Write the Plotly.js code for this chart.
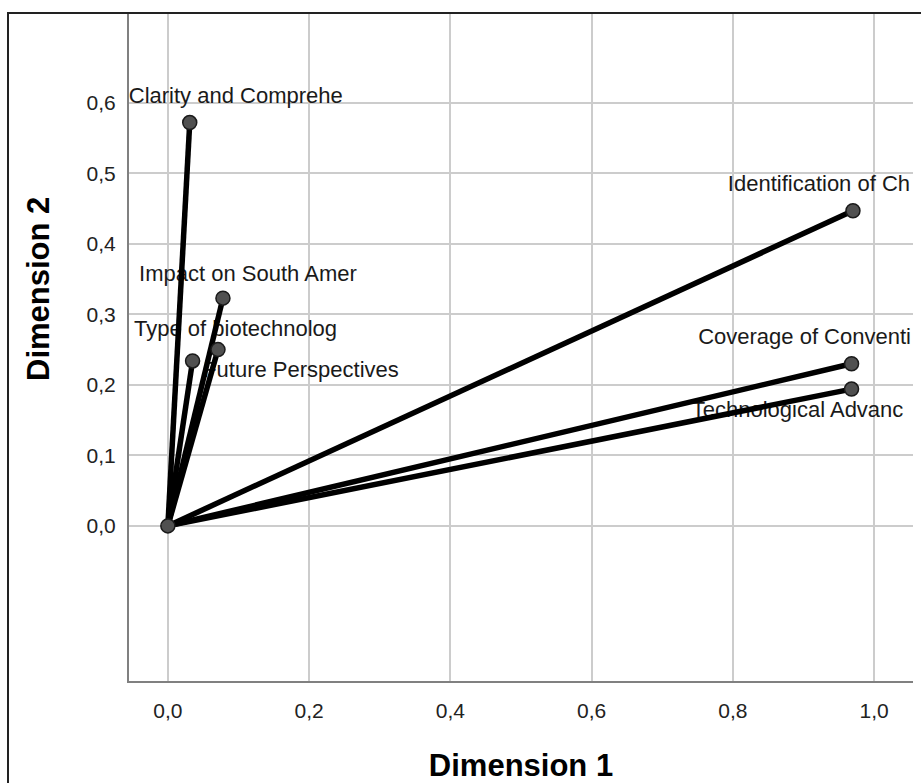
<!DOCTYPE html>
<html>
<head>
<meta charset="utf-8">
<script src="https://cdn.plot.ly/plotly-3.0.1.min.js"></script>
<style>
  html, body { margin: 0; padding: 0; background: #ffffff; }
  #chart { width: 921px; height: 783px; }
</style>
</head>
<body>
<div id="chart"></div>
<script>
// ---- data ----
const labels = [
  "Clarity and Comprehe",
  "Impact on South Amer",
  "Type of biotechnolog",
  "Future Perspectives",
  "Identification of Ch",
  "Coverage of Conventi",
  "Technological Advanc"
];
const dim1 = [0.031, 0.078, 0.035, 0.071, 0.970, 0.968, 0.968];
const dim2 = [0.572, 0.323, 0.234, 0.250, 0.447, 0.230, 0.194];
const xTicks = [0, 0.2, 0.4, 0.6, 0.8, 1.0];
const yTicks = [0, 0.1, 0.2, 0.3, 0.4, 0.5, 0.6];

// ---- layout constants ----
const W = 921, H = 783;
const M = { l: 129, r: 8, t: 14, b: 102 };
const xRange = [-0.055, 1.055];
const yRange = [-0.22, 0.726];
const plotW = W - M.l - M.r, plotH = H - M.t - M.b;
const pxX = plotW / (xRange[1] - xRange[0]);
const pxY = plotH / (yRange[1] - yRange[0]);

// pixel offsets of each label's centre from its point (style, not data)
const labelOffsets = [
  [46, -25], [25, -23], [43, -30], [83, 22],
  [-34, -25], [-47, -25], [-54, 22]
];

const FONT = "Liberation Sans, Arial, sans-serif";

// vectors from origin
const lx = [], ly = [];
dim1.forEach((v, i) => { lx.push(0, v, null); ly.push(0, dim2[i], null); });

const textTrace = {
  type: "scatter", mode: "text",
  x: dim1.map((v, i) => v + labelOffsets[i][0] / pxX),
  y: dim2.map((v, i) => v - labelOffsets[i][1] / pxY),
  text: labels,
  textposition: "middle center",
  textfont: { family: FONT, size: 22, color: "#1a1a1a" },
  cliponaxis: false,
  hoverinfo: "skip", showlegend: false
};

const lineTrace = {
  type: "scatter", mode: "lines",
  x: lx, y: ly,
  line: { color: "#000000", width: 5.5 },
  hoverinfo: "skip", showlegend: false
};

const pointTrace = {
  type: "scatter", mode: "markers",
  x: [0].concat(dim1), y: [0].concat(dim2),
  marker: { size: 14, color: "#505050", line: { color: "#1a1a1a", width: 1.5 } },
  cliponaxis: false,
  showlegend: false
};

const layout = {
  width: W, height: H,
  margin: M,
  paper_bgcolor: "#ffffff",
  plot_bgcolor: "#ffffff",
  separators: ", ",
  showlegend: false,
  font: { family: FONT, color: "#222222" },
  xaxis: {
    range: xRange, autorange: false,
    tickvals: xTicks, tickformat: ".1f",
    tickfont: { family: FONT, size: 21, color: "#222222" },
    ticks: "", ticklabelstandoff: 10,
    showgrid: true, gridcolor: "#cccccc", gridwidth: 2,
    zeroline: false,
    showline: true, linecolor: "#808080", linewidth: 2,
    automargin: false,
    title: { text: "Dimension 1", font: { family: FONT, size: 31, color: "#000000", weight: "bold" }, standoff: 34 }
  },
  yaxis: {
    range: yRange, autorange: false,
    tickvals: yTicks, tickformat: ".1f",
    tickfont: { family: FONT, size: 21, color: "#222222" },
    ticks: "", ticklabelstandoff: 7,
    showgrid: true, gridcolor: "#cccccc", gridwidth: 2,
    zeroline: false,
    showline: true, linecolor: "#808080", linewidth: 2,
    automargin: false
  },
  annotations: [{
    text: "<b>Dimension 2</b>",
    xref: "paper", yref: "paper",
    x: (39 - M.l) / plotW, y: (H - M.b - 289) / plotH,
    xanchor: "center", yanchor: "middle",
    textangle: -90, showarrow: false,
    font: { family: FONT, size: 31, color: "#000000" }
  }],
  shapes: [{
    type: "rect", xref: "paper", yref: "paper",
    x0: (8 - M.l) / plotW, x1: 1.2,
    y0: -0.4, y1: (H - M.b - 13) / plotH,
    line: { color: "#222222", width: 2 },
    fillcolor: "rgba(0,0,0,0)", layer: "above"
  }]
};

Plotly.newPlot("chart", [textTrace, lineTrace, pointTrace], layout, { displayModeBar: false, staticPlot: true });
</script>
</body>
</html>
